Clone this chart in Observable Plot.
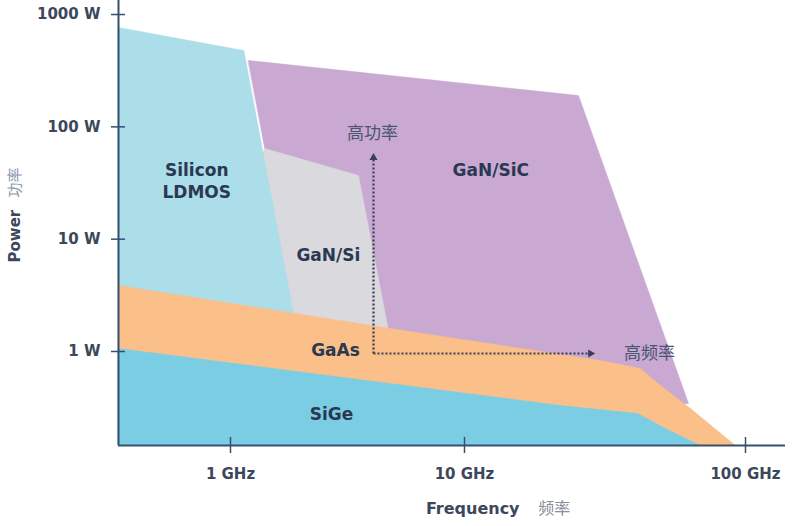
<!DOCTYPE html>
<html><head><meta charset="utf-8">
<script src="https://cdn.jsdelivr.net/npm/d3@7"></script>
<script src="https://cdn.jsdelivr.net/npm/@observablehq/plot@0.6"></script>
<style>body{margin:0;background:#fff}</style>
</head><body><div id="chart"></div>
<script>
// ticks
const xTicks = [1, 10, 100];
const xTickLabels = ["1 GHz", "10 GHz", "100 GHz"];
const yTicks = [1, 10, 100, 1000];
const yTickLabels = ["1 W", "10 W", "100 W", "1000 W"];
const fMin = 0.33, fMax = 140, pMin = 0.1456, pMax = 1333;

// region outlines (frequency GHz, power W)
const ganSicFreq  = [1.19, 25.45, 62.7, 49.8, 1.40, 1.40];
const ganSicPower = [390, 190, 0.344, 0.331, 0.331, 64.2];
const ganSiFreq   = [1.40, 3.524, 4.733, 4.92, 1.636, 1.343];
const ganSiPower  = [64.2, 36.9, 1.54, 1.02, 1.02, 50.2];
const ldmosFreq   = [0.33, 1.14, 1.89, 1.89, 0.33];
const ldmosPower  = [766, 478, 1.8, 0.1456, 0.1456];
const gaasFreq    = [0.33, 4.83, 30.5, 42.3, 49.8, 63.7, 92.1, 0.33];
const gaasPower   = [3.87, 1.60, 0.832, 0.706, 0.498, 0.311, 0.1456, 0.1456];
const sigeFreq    = [0.33, 21.96, 41.3, 51.9, 69.2, 0.33];
const sigePower   = [1.063, 0.331, 0.2805, 0.206, 0.1456, 0.1456];

// region labels
const labelText  = ["Silicon\nLDMOS", "GaN/SiC", "GaN/Si", "GaAs", "SiGe"];
const labelFreq  = [0.716, 12.4, 2.62, 2.81, 2.70];
const labelPower = [34.0, 42.6, 7.45, 1.063, 0.286];

// arrows: origin, up end, right end
const arrowFreq0 = 4.084, arrowPower0 = 0.96;
const arrowUpPower = 53.3, arrowRightFreq = 28.08;
const upLabel = "高功率", rightLabel = "高频率";
const upLabelPos = [4.04, 87.3], rightLabelPos = [45.5, 0.96];

const zip = (fs, ps) => fs.map((f, i) => ({f, p: ps[i]}));
const poly = (fs, ps, color) => Plot.line(zip(fs, ps), {x: "f", y: "p", curve: "linear-closed", fill: color, stroke: color, strokeWidth: 0.5});

const axisColor = "#34506e";
const textColor = "#2a3852";
const tickColor = "#3c475b";
const font = "DejaVu Sans, Liberation Sans, sans-serif";
const cjk = "Noto Sans CJK SC, sans-serif";

const labels = labelText.map((t, i) => ({t, f: labelFreq[i], p: labelPower[i]}));

const chart = Plot.plot({
  width: 800, height: 526,
  marginLeft: 118, marginRight: 15, marginTop: 0, marginBottom: 81,
  style: {background: "#fff", fontFamily: font},
  x: {type: "log", domain: [fMin, 1, 10, 100, fMax], range: [118, 230, 464, 745, 785], label: null},
  y: {type: "log", domain: [pMin, pMax], range: [445, 0], label: null},
  marks: [
    poly(ganSicFreq, ganSicPower, "#c9a9d2"),
    poly(ganSiFreq, ganSiPower, "#d9d9de"),
    poly(ldmosFreq, ldmosPower, "#abdee9"),
    poly(gaasFreq, gaasPower, "#fbbf89"),
    poly(sigeFreq, sigePower, "#7bcde4"),
    // region labels
    Plot.text(labels, {x: "f", y: "p", text: "t", fill: textColor, fontWeight: "bold", fontSize: 17, lineHeight: 1.3, letterSpacing: 1.8}),
    // dotted arrows
    Plot.link([0], {x1: arrowFreq0, y1: arrowPower0, x2: arrowFreq0, y2: arrowUpPower, stroke: "#3a3f55", strokeWidth: 2.2, strokeDasharray: "2,2"}),
    Plot.link([0], {x1: arrowFreq0, y1: arrowPower0, x2: arrowRightFreq, y2: arrowPower0, stroke: "#3a3f55", strokeWidth: 2.2, strokeDasharray: "2,2"}),
    Plot.dot([0], {x: arrowFreq0, y: arrowUpPower, symbol: "triangle", r: 3, fill: "#3a3f55", stroke: "none"}),
    Plot.dot([0], {x: arrowRightFreq, y: arrowPower0, symbol: "triangle", rotate: 90, r: 3, fill: "#3a3f55", stroke: "none"}),
    Plot.text([upLabel], {x: upLabelPos[0], y: upLabelPos[1], text: d => d, fill: "#4a5572", fontSize: 17, fontFamily: cjk}),
    Plot.text([rightLabel], {x: rightLabelPos[0], y: rightLabelPos[1], text: d => d, fill: "#4a5572", fontSize: 17, fontFamily: cjk}),
    // axis lines
    Plot.ruleX([fMin], {y1: pMin, y2: pMax, stroke: axisColor, strokeWidth: 2}),
    Plot.ruleY([pMin], {x1: fMin, x2: fMax, stroke: axisColor, strokeWidth: 2}),
    // ticks
    Plot.axisY({ticks: yTicks, tickSize: 14, dx: 7, tickFormat: () => "", stroke: axisColor, strokeWidth: 1.5}),
    Plot.axisX({ticks: xTicks, tickSize: 16, dy: -8, tickFormat: () => "", stroke: axisColor, strokeWidth: 1.5}),
    // tick labels
    Plot.text(yTicks, {x: fMin, y: d => d, text: (d, i) => yTickLabels[i], textAnchor: "end", dx: -18, fill: tickColor, fontWeight: "bold", fontSize: 15, letterSpacing: 1}),
    Plot.text(xTicks, {x: d => d, y: pMin, text: (d, i) => xTickLabels[i], dy: 29, fill: tickColor, fontWeight: "bold", fontSize: 15, letterSpacing: 1}),
    // axis titles
    Plot.text(["Frequency"], {x: 15.7, y: pMin, text: d => d, textAnchor: "end", dy: 63, fill: tickColor, fontWeight: "bold", fontSize: 16, letterSpacing: 0.8}),
    Plot.text(["频率"], {x: 18.3, y: pMin, text: d => d, textAnchor: "start", dy: 63, fill: "#8a8f9a", fontSize: 16, fontFamily: cjk}),
    Plot.text(["Power"], {x: fMin, y: 6.2, text: d => d, textAnchor: "start", rotate: -90, dx: -103, fill: tickColor, fontWeight: "bold", fontSize: 15}),
    Plot.text(["功率"], {x: fMin, y: 23.5, text: d => d, textAnchor: "start", rotate: -90, dx: -103, fill: "#8a96aa", fontSize: 15, fontFamily: cjk})
  ]
});
document.getElementById("chart").appendChild(chart);
</script>
</body></html>
